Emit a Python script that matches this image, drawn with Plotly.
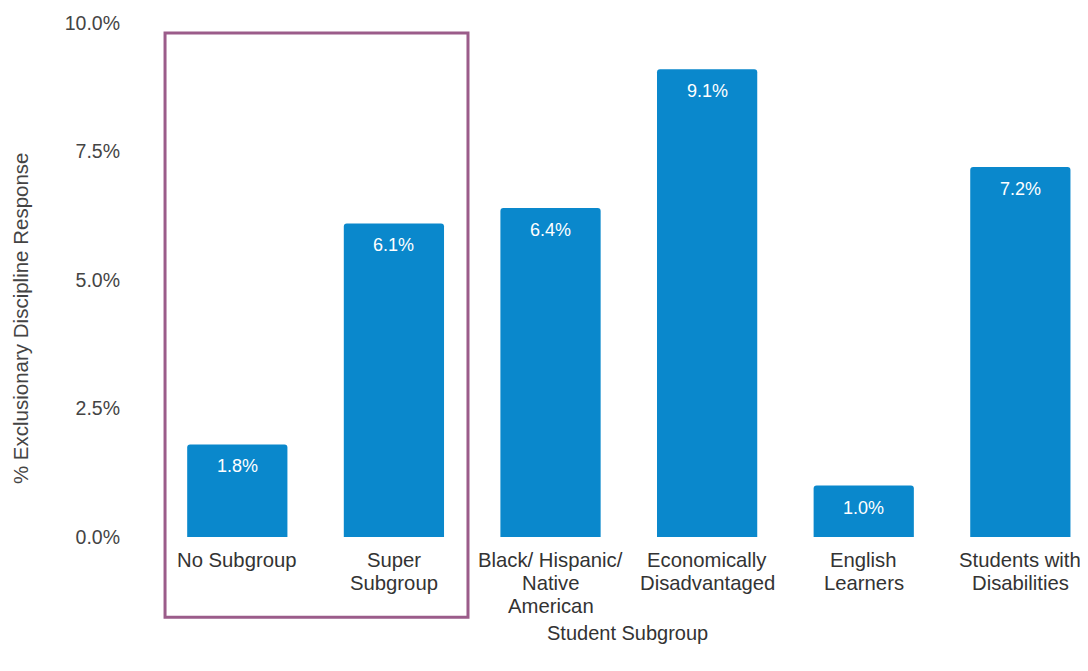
import plotly.graph_objects as go

categories = ["No Subgroup", "Super<br>Subgroup", "Black/ Hispanic/<br>Native<br>American",
              "Economically<br>Disadvantaged", "English<br>Learners", "Students with<br>Disabilities"]
values = [1.8, 6.1, 6.4, 9.1, 1.0, 7.2]
labels = ["1.8%", "6.1%", "6.4%", "9.1%", "1.0%", "7.2%"]
y_ticks = [0, 2.5, 5.0, 7.5, 10.0]
y_ticktext = ["0.0%", "2.5%", "5.0%", "7.5%", "10.0%"]
x_title = "Student Subgroup"
y_title = "% Exclusionary Discipline Response"

BAR = "#0A88CC"
FONT = "Liberation Sans, Arial, sans-serif"
TXT = "#333333"

fig = go.Figure()
fig.add_trace(go.Bar(
    x=list(range(len(categories))), y=values,
    marker=dict(color=BAR, cornerradius=3, line=dict(width=0)),
    width=0.64, hoverinfo="skip",
))
for i, (v, t) in enumerate(zip(values, labels)):
    fig.add_annotation(x=i, y=v, text=t, showarrow=False, yanchor="top", yshift=-10,
                       font=dict(family=FONT, size=18, color="white"))

# category labels (one annotation per line, tighter line spacing than plotly ticks)
for i, cat in enumerate(categories):
    for k, line in enumerate(cat.split("<br>")):
        fig.add_annotation(x=i, xref="x", yref="paper", y=0, text=line, showarrow=False,
                           xanchor="center", yanchor="middle", yshift=-(23 + 23 * k),
                           font=dict(family=FONT, size=20.3, color=TXT))

fig.add_shape(type="rect", xref="paper", yref="paper",
              x0=0.0065, x1=0.3326, y0=-0.156, y1=0.9805,
              line=dict(color="#9B5C8A", width=3), fillcolor="rgba(0,0,0,0)")

fig.add_annotation(xref="paper", yref="paper", x=0.5048, y=-0.1868, text=x_title,
                   showarrow=False, xanchor="center", yanchor="middle",
                   font=dict(family=FONT, size=20, color=TXT))
fig.add_annotation(xref="paper", yref="paper", x=-0.1496, y=0.426, text=y_title,
                   showarrow=False, xanchor="center", yanchor="middle", textangle=-90,
                   font=dict(family=FONT, size=20.5, color="#444444"))

fig.update_layout(
    width=1080, height=663,
    margin=dict(l=151, r=0, t=15, b=134),
    paper_bgcolor="white", plot_bgcolor="white",
    showlegend=False,
    font=dict(family=FONT, size=20, color=TXT),
    xaxis=dict(
        range=[-0.5, 5.432], showticklabels=False,
        showgrid=False, zeroline=False, showline=False, ticks="",
    ),
    yaxis=dict(
        range=[0, 10], tickmode="array", tickvals=y_ticks, ticktext=y_ticktext,
        showgrid=False, zeroline=False, showline=False, ticks="",
        tickfont=dict(size=19.5, color="#444444"), ticklabelstandoff=38,
    ),
)
fig.write_html("out.html")
